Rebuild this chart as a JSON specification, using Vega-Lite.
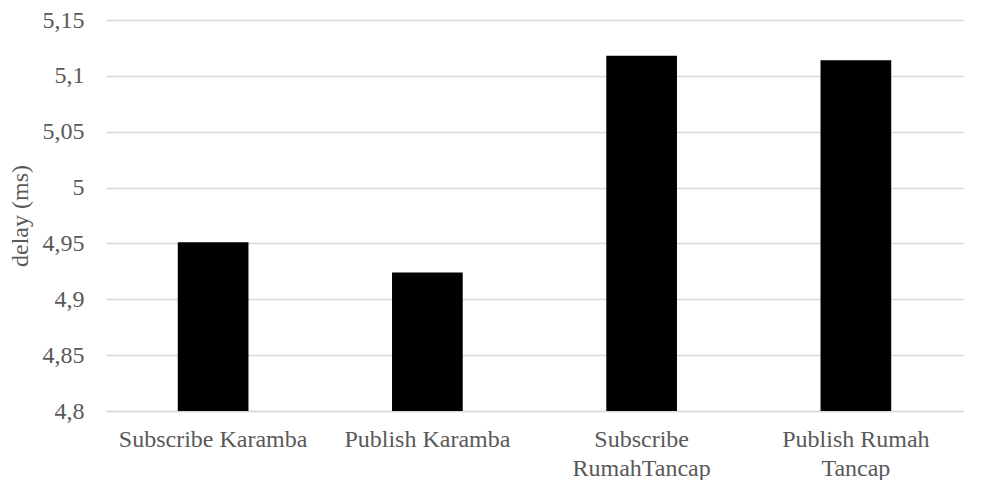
{
  "$schema": "https://vega.github.io/schema/vega-lite/v6.json",
  "width": 983,
  "height": 480,
  "autosize": {"type": "fit", "contains": "padding"},
  "padding": {"left": 8, "top": 8, "right": 20, "bottom": 0},
  "background": "white",
  "config": {
    "view": {"stroke": null},
    "font": "Liberation Serif",
    "locale": {"number": {"decimal": ",", "thousands": ".", "grouping": [3], "currency": ["", ""]}}
  },
  "data": {
    "values": [
      {"category": "Subscribe Karamba", "delay": 4.951},
      {"category": "Publish Karamba", "delay": 4.924},
      {"category": "Subscribe RumahTancap", "delay": 5.118},
      {"category": "Publish Rumah Tancap", "delay": 5.114}
    ]
  },
  "mark": {"type": "bar", "color": "black", "clip": true},
  "encoding": {
    "x": {
      "field": "category",
      "type": "nominal",
      "sort": null,
      "scale": {"paddingInner": 0.67, "paddingOuter": 0.335},
      "axis": {
        "title": null,
        "labelAngle": 0,
        "labelFont": "Liberation Serif",
        "labelFontSize": 24,
        "labelColor": "#595959",
        "labelPadding": 16,
        "labelLimit": 400,
        "ticks": false,
        "domainColor": "#d9d9d9",
        "domainWidth": 1.5,
        "labelLineHeight": 29,
        "labelExpr": "datum.label == 'Subscribe RumahTancap' ? ['Subscribe', 'RumahTancap'] : datum.label == 'Publish Rumah Tancap' ? ['Publish Rumah', 'Tancap'] : datum.label"
      }
    },
    "y": {
      "field": "delay",
      "type": "quantitative",
      "scale": {"domain": [4.8, 5.15], "zero": false, "nice": false},
      "axis": {
        "title": "delay (ms)",
        "titleFont": "Liberation Serif",
        "titleFontSize": 24,
        "titleFontWeight": "normal",
        "titleColor": "#595959",
        "titlePadding": 10,
        "values": [4.8, 4.85, 4.9, 4.95, 5, 5.05, 5.1, 5.15],
        "format": "~g",
        "labelFont": "Liberation Serif",
        "labelFontSize": 24,
        "labelColor": "#595959",
        "labelPadding": 22,
        "ticks": false,
        "domain": false,
        "gridColor": "#d9d9d9",
        "gridWidth": 1.5
      }
    }
  }
}
